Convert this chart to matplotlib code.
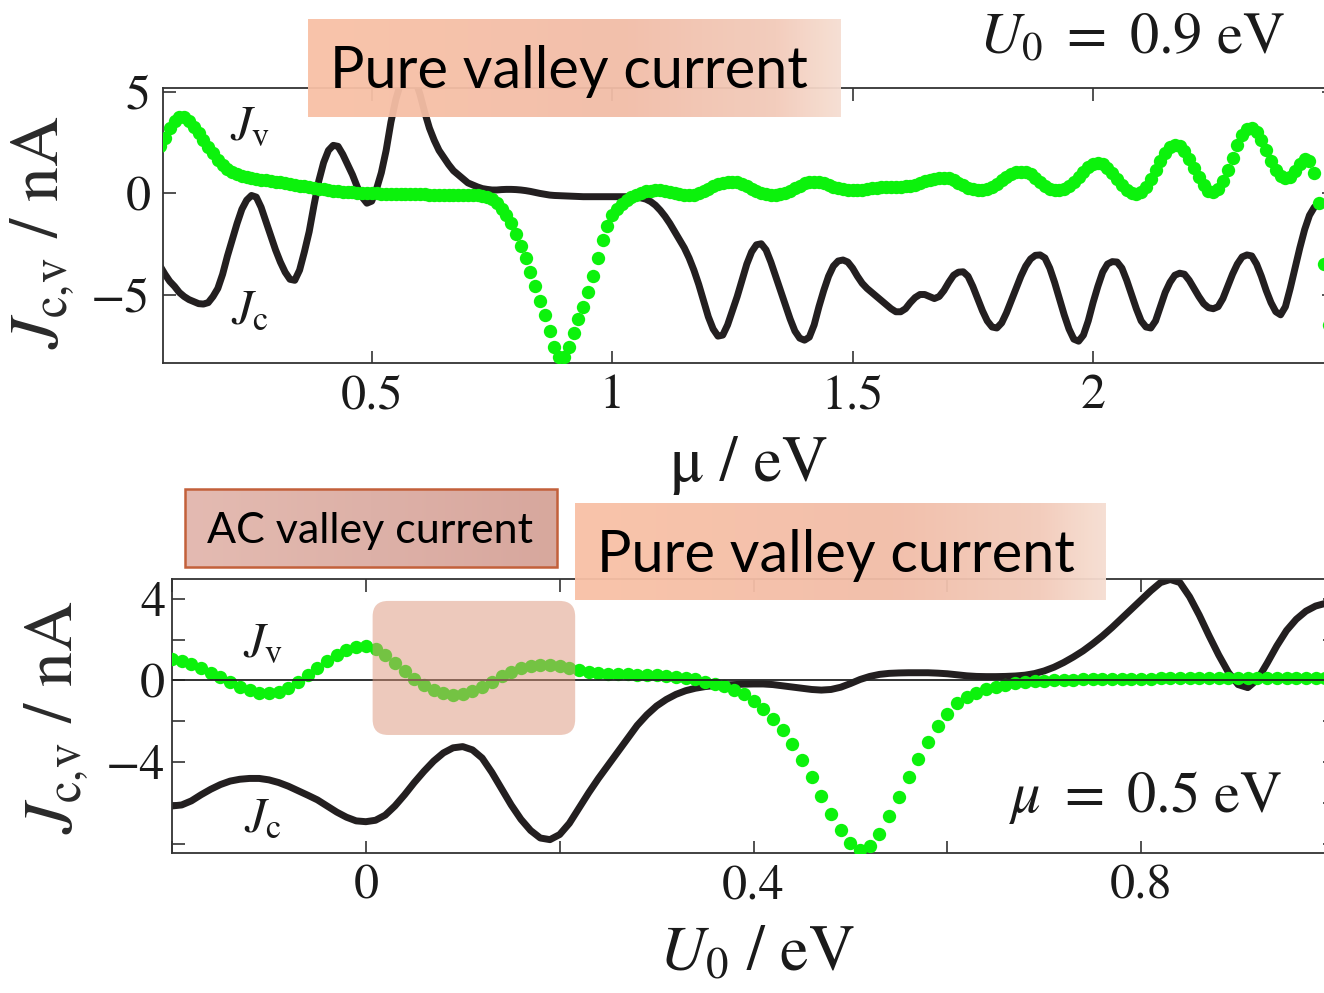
import numpy as np
import matplotlib.pyplot as plt
from matplotlib.colors import LinearSegmentedColormap
from matplotlib.patches import FancyBboxPatch, Rectangle

plt.rcParams['font.family'] = 'STIXGeneral'
plt.rcParams['mathtext.fontset'] = 'stix'

W, H = 1324, 993

# ---- data: top panel, U0 = 0.9 eV, sweep of mu (0.06 .. 2.50 eV, step 0.01)
mu = np.round(np.linspace(0.06, 2.50, 245), 2)
jc_mu = [
    -3.6, -4.0, -4.35, -4.6, -4.9, -5.1, -5.25, -5.35, -5.45, -5.47,
    -5.4, -5.1, -4.7, -4.0, -3.1, -2.3, -1.5, -0.8, -0.35, -0.12,
    -0.2, -0.7, -1.4, -2.1, -2.8, -3.4, -3.9, -4.25, -4.3, -3.8,
    -2.9, -1.9, -0.6, 0.6, 1.5, 2.1, 2.35, 2.3, 1.9, 1.4,
    0.9, 0.3, -0.2, -0.5, -0.4, 0.2, 1.0, 2.1, 3.5, 4.6,
    5.4, 5.8, 5.9, 5.6, 4.9, 4.0, 3.2, 2.6, 2.1, 1.75,
    1.4, 1.1, 0.9, 0.7, 0.5, 0.4, 0.3, 0.22, 0.18, 0.15,
    0.15, 0.17, 0.18, 0.18, 0.17, 0.15, 0.12, 0.08, 0.03, -0.02,
    -0.06, -0.1, -0.12, -0.13, -0.14, -0.15, -0.16, -0.17, -0.18, -0.18,
    -0.18, -0.18, -0.18, -0.18, -0.18, -0.18, -0.18, -0.18, -0.19, -0.2,
    -0.24, -0.3, -0.42, -0.6, -0.85, -1.15, -1.5, -1.9, -2.3, -2.7,
    -3.2, -3.8, -4.5, -5.3, -6.1, -6.7, -7.05, -7.0, -6.5, -5.8,
    -5.1, -4.3, -3.5, -2.9, -2.55, -2.5, -2.8, -3.4, -4.1, -4.8,
    -5.5, -6.2, -6.8, -7.15, -7.25, -7.1, -6.5, -5.6, -4.8, -4.1,
    -3.6, -3.35, -3.3, -3.4, -3.7, -4.1, -4.45, -4.7, -4.9, -5.1,
    -5.3, -5.5, -5.7, -5.85, -5.85, -5.7, -5.4, -5.15, -5.0, -5.0,
    -5.1, -5.2, -5.1, -4.8, -4.4, -4.05, -3.9, -3.88, -4.1, -4.6,
    -5.2, -5.8, -6.3, -6.6, -6.65, -6.4, -5.9, -5.3, -4.7, -4.1,
    -3.6, -3.25, -3.07, -3.05, -3.2, -3.7, -4.4, -5.2, -6.0, -6.7,
    -7.2, -7.3, -7.0, -6.3, -5.4, -4.6, -3.9, -3.5, -3.38, -3.4,
    -3.7, -4.3, -5.0, -5.7, -6.3, -6.6, -6.65, -6.3, -5.6, -4.9,
    -4.4, -4.05, -3.95, -4.0, -4.3, -4.7, -5.1, -5.45, -5.65, -5.7,
    -5.6, -5.2, -4.6, -4.0, -3.5, -3.15, -3.05, -3.1, -3.5, -4.1,
    -4.8, -5.4, -5.85, -6.0, -5.6, -4.7, -3.7, -2.7, -1.8, -1.1,
    -0.7, -0.5, -0.5, -0.8, -1.2,
]
jv_mu = [
    2.3, 2.7, 3.2, 3.55, 3.75, 3.75, 3.55, 3.25, 2.95, 2.6,
    2.25, 1.95, 1.65, 1.4, 1.2, 1.05, 0.95, 0.85, 0.77, 0.72,
    0.68, 0.65, 0.62, 0.59, 0.56, 0.53, 0.49, 0.45, 0.41, 0.37,
    0.33, 0.3, 0.26, 0.22, 0.18, 0.15, 0.12, 0.09, 0.07, 0.05,
    0.03, 0.02, 0.01, 0.0, -0.01, -0.02, -0.03, -0.03, -0.04, -0.04,
    -0.05, -0.05, -0.06, -0.06, -0.07, -0.07, -0.08, -0.08, -0.09, -0.09,
    -0.1, -0.1, -0.1, -0.1, -0.1, -0.1, -0.11, -0.13, -0.18, -0.3,
    -0.5, -0.8, -1.1, -1.5, -2.0, -2.6, -3.2, -3.9, -4.6, -5.3,
    -6.0, -6.8, -7.6, -8.1, -8.1, -7.6, -6.9, -6.2, -5.6, -4.9,
    -4.1, -3.2, -2.3, -1.6, -1.1, -0.8, -0.55, -0.35, -0.2, -0.08,
    0.0, 0.08, 0.12, 0.15, 0.15, 0.12, 0.07, 0.02, -0.04, -0.08,
    -0.1, -0.08, 0.0, 0.1, 0.22, 0.33, 0.43, 0.5, 0.55, 0.56,
    0.53, 0.45, 0.35, 0.22, 0.1, 0.0, -0.06, -0.1, -0.1, -0.06,
    0.02, 0.12, 0.25, 0.37, 0.47, 0.54, 0.56, 0.54, 0.47, 0.38,
    0.3, 0.23, 0.18, 0.15, 0.14, 0.15, 0.17, 0.2, 0.23, 0.26,
    0.28, 0.3, 0.31, 0.31, 0.31, 0.33, 0.36, 0.42, 0.5, 0.58,
    0.65, 0.7, 0.74, 0.75, 0.72, 0.62, 0.5, 0.38, 0.27, 0.19,
    0.15, 0.15, 0.2, 0.3, 0.45, 0.62, 0.78, 0.92, 1.02, 1.06,
    1.04, 0.92, 0.72, 0.52, 0.35, 0.22, 0.16, 0.15, 0.2, 0.35,
    0.56, 0.8, 1.05, 1.28, 1.42, 1.47, 1.42, 1.25, 0.98, 0.68,
    0.38, 0.15, 0.0, -0.03, 0.05, 0.3, 0.7, 1.15, 1.6, 1.98,
    2.25, 2.36, 2.3, 2.05, 1.7, 1.25, 0.8, 0.4, 0.12, 0.06,
    0.2, 0.6, 1.15, 1.75, 2.35, 2.85, 3.15, 3.2, 3.0, 2.6,
    2.1, 1.6, 1.15, 0.85, 0.72, 0.8, 1.1, 1.45, 1.7, 1.6,
    1.0, -0.5, -3.5, -6.5, -8.0,
]

# ---- data: bottom panel, mu = 0.5 eV, sweep of U0 (-0.20 .. 1.00 eV, step 0.01)
u0 = np.round(np.linspace(-0.20, 1.00, 121), 2)
jc_u0 = [
    -6.15, -6.1, -5.9, -5.6, -5.33, -5.1, -4.93, -4.84, -4.8, -4.8,
    -4.87, -5.0, -5.18, -5.4, -5.62, -5.85, -6.15, -6.45, -6.7, -6.88,
    -6.92, -6.85, -6.6, -6.15, -5.6, -5.0, -4.45, -3.95, -3.55, -3.3,
    -3.24, -3.4, -3.8, -4.5, -5.3, -6.1, -6.8, -7.35, -7.72, -7.8,
    -7.55, -7.0, -6.25, -5.5, -4.8, -4.15, -3.5, -2.85, -2.2, -1.68,
    -1.25, -0.93, -0.68, -0.5, -0.38, -0.3, -0.25, -0.22, -0.2, -0.18,
    -0.17, -0.17, -0.2, -0.26, -0.32, -0.38, -0.44, -0.47, -0.44, -0.33,
    -0.15, 0.05, 0.2, 0.3, 0.35, 0.37, 0.38, 0.38, 0.38, 0.36,
    0.33, 0.28, 0.23, 0.2, 0.19, 0.19, 0.2, 0.22, 0.26, 0.34,
    0.47, 0.65, 0.88, 1.15, 1.45, 1.8, 2.18, 2.6, 3.05, 3.5,
    3.95, 4.4, 4.8, 4.95, 4.8, 4.1, 3.2, 2.2, 1.25, 0.4,
    -0.2, -0.35, 0.05, 0.85, 1.7, 2.45, 3.0, 3.4, 3.65, 3.78,
    3.8,
]
jv_u0 = [
    1.05, 0.95, 0.8, 0.6, 0.38, 0.15, -0.08, -0.3, -0.48, -0.6,
    -0.63, -0.55, -0.35, -0.08, 0.25, 0.6, 0.95, 1.25, 1.48, 1.63,
    1.68, 1.55, 1.25, 0.85, 0.45, 0.08, -0.22, -0.45, -0.62, -0.7,
    -0.66, -0.52, -0.3, -0.05, 0.2, 0.42, 0.6, 0.72, 0.78, 0.78,
    0.72, 0.6, 0.5, 0.42, 0.36, 0.33, 0.31, 0.3, 0.29, 0.28,
    0.26, 0.23, 0.19, 0.13, 0.05, -0.05, -0.15, -0.27, -0.45, -0.68,
    -1.0, -1.4, -1.9, -2.45, -3.1, -3.9, -4.75, -5.65, -6.55, -7.35,
    -7.95, -8.3, -8.1, -7.5, -6.65, -5.7, -4.75, -3.85, -3.0, -2.25,
    -1.65, -1.12, -0.82, -0.6, -0.42, -0.3, -0.2, -0.13, -0.08, -0.04,
    -0.01, 0.01, 0.03, 0.04, 0.05, 0.06, 0.07, 0.07, 0.08, 0.08,
    0.09, 0.09, 0.1, 0.1, 0.1, 0.11, 0.11, 0.11, 0.12, 0.12,
    0.12, 0.12, 0.12, 0.12, 0.12, 0.12, 0.12, 0.12, 0.12, 0.12,
    0.12,
]

GREEN = '#0cf20c'
BLACK = '#231f20'
INK = '#1a1a1a'


def px_axes(left, top, right, bottom):
    # pixel box -> figure fraction
    return [left / W, 1 - bottom / H, (right - left) / W, (bottom - top) / H]


def style_axes(ax):
    for s in ax.spines.values():
        s.set_color('#333333')
        s.set_linewidth(1.3)
    ax.tick_params(direction='in', length=9, width=1.2, color='#333333',
                   top=True, right=True, labelsize=36, labelcolor=INK)


YLAB = r'$J_{\mathrm{c,\!v}}$ / nA'

fig = plt.figure(figsize=(W / 100, H / 100), dpi=100)

# ---------------- top panel
ax1 = fig.add_axes(px_axes(163, 87.5, 1333.5, 362.7))
ax1.plot(mu, jc_mu, color=BLACK, lw=5, solid_capstyle='round', zorder=2)
ax1.plot(mu, jv_mu, 'o', color=GREEN, ms=9.6, mew=0, zorder=3)
ax1.set_xlim(0.066, 2.5)
ax1.set_ylim(-8.36, 5.2)
style_axes(ax1)
ax1.set_xticks([0.5, 1, 1.5, 2, 2.5])
ax1.set_xticklabels(['0.5', '1', '1.5', '2', ''])
ax1.set_yticks([-5, 0, 5])
ax1.set_yticklabels(['\u22125', '0', '5'])
ax1.tick_params(axis='x', pad=8)
ax1.tick_params(axis='y', pad=9)
ax1.set_xlabel('\u03bc / eV', fontsize=46, color=INK, va='center')
ax1.xaxis.set_label_coords(0.501, -0.372)
ax1.set_ylabel(YLAB, fontsize=50, color='#2a2a2a', va='center')
ax1.yaxis.set_label_coords(-0.103, 0.475)
ax1.text(0.247, 3.2, r'$J_{\mathrm{v}}$', fontsize=35, color=INK, ha='center', va='center')
ax1.text(0.247, -5.86, r'$J_{\mathrm{c}}$', fontsize=35, color=INK, ha='center', va='center')

# ---------------- bottom panel
ax2 = fig.add_axes(px_axes(172, 579.3, 1335, 852.7))
ax2.plot(u0, jc_u0, color=BLACK, lw=5, solid_capstyle='round', zorder=2)
ax2.plot(u0, jv_u0, 'o', color=GREEN, ms=9.6, mew=0, zorder=3)
ax2.axhline(0, color='#222222', lw=1.3, zorder=4)
ax2.set_xlim(-0.2, 1.0)
ax2.set_ylim(-8.44, 4.96)
style_axes(ax2)
ax2.set_xticks([-0.2, 0, 0.2, 0.4, 0.6, 0.8, 1.0])
ax2.set_xticklabels(['', '0', '', '0.4', '', '0.8', ''])
ax2.set_yticks([-8, -6, -4, -2, 0, 2, 4])
ax2.set_yticklabels(['', '', '\u22124', '', '0', '', '4'])
ax2.tick_params(axis='x', pad=8)
ax2.tick_params(axis='y', pad=5)
ax2.set_xlabel(r'$U_0$ / eV', fontsize=46, color=INK, va='center')
ax2.xaxis.set_label_coords(0.503, -0.374)
ax2.set_ylabel(YLAB, fontsize=50, color='#2a2a2a', va='center')
ax2.yaxis.set_label_coords(-0.099, 0.496)
ax2.text(-0.1065, 1.74, r'$J_{\mathrm{v}}$', fontsize=35, color=INK, ha='center', va='center')
ax2.text(-0.1065, -6.84, r'$J_{\mathrm{c}}$', fontsize=35, color=INK, ha='center', va='center')

# translucent highlight of the AC part
hl = FancyBboxPatch((0.007, -2.67), 0.209, 6.57,
                    boxstyle='round,pad=0,rounding_size=0.016',
                    mutation_aspect=47.5, fc=(220/255, 149/255, 122/255),
                    alpha=0.5, ec='none', zorder=5)
ax2.add_patch(hl)

fig.text(1146 / W, 1 - 797 / H, r'$\mu\ =\ 0.5\ \mathrm{eV}$',
         fontsize=42, color=INK, ha='center', va='center')
fig.text(1132 / W, 1 - 40 / H, r'$U_0\ =\ 0.9\ \mathrm{eV}$',
         fontsize=42, color=INK, ha='center', va='center')


# ---------------- call-out boxes
def callout(left, top, right, bottom, text, size, stops, tx, ty, edge=None):
    bax = fig.add_axes(px_axes(left, top, right, bottom), zorder=10)
    cmap = LinearSegmentedColormap.from_list('grad', stops)
    bax.imshow(np.linspace(0, 1, 256)[None, :], cmap=cmap, aspect='auto',
               extent=[0, 1, 0, 1], alpha=0.95)
    bax.set_axis_off()
    if edge:
        bax.add_patch(Rectangle((0, 0), 1, 1, transform=bax.transAxes, fill=False,
                                ec=edge, lw=1.8, clip_on=False))
    bax.text(tx, ty, text, transform=bax.transAxes, family='Lato', fontsize=size,
             color='black', ha='left', va='baseline')


peach = [(0.0, (249/255, 193/255, 166/255)), (0.6, (242/255, 189/255, 168/255)),
         (0.88, (243/255, 203/255, 186/255)), (1.0, (246/255, 222/255, 210/255))]
rose = [(0.0, (227/255, 183/255, 174/255)), (1.0, (213/255, 163/255, 152/255))]

callout(308, 19, 840, 117, 'Pure valley current', 41.5, peach, 0.041, 0.299)
callout(575, 503, 1106, 600, 'Pure valley current', 41.5, peach, 0.041, 0.289)
callout(185, 489, 557, 567, 'AC valley current', 31, rose, 0.059, 0.308, edge='#c3603a')

fig.savefig('out.png', dpi=100)
